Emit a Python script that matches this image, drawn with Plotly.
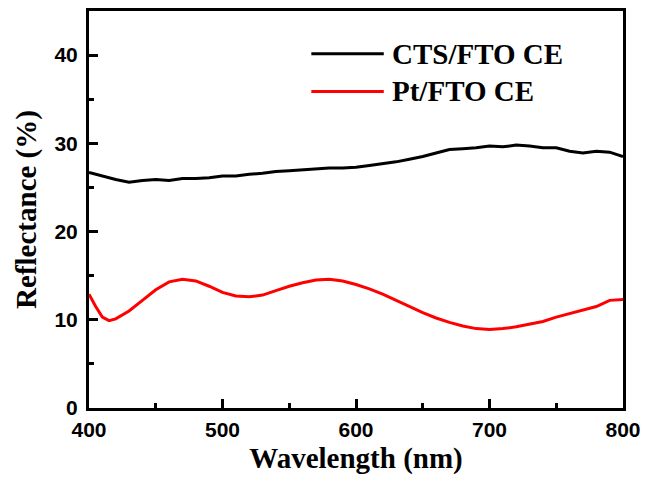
import plotly.graph_objects as go

wl_cts = [400, 410, 420, 430, 440, 450, 460, 470, 480, 490, 500, 510, 520, 530, 540, 550,
          560, 570, 580, 590, 600, 610, 620, 630, 640, 650, 660, 670, 680, 690, 700, 710,
          720, 730, 740, 750, 760, 770, 780, 790, 800]
refl_cts = [26.7, 26.3, 25.9, 25.6, 25.8, 25.9, 25.8, 26.0, 26.0, 26.1, 26.3, 26.3, 26.5, 26.6,
            26.8, 26.9, 27.0, 27.1, 27.2, 27.2, 27.3, 27.5, 27.7, 27.9, 28.2, 28.5, 28.9, 29.3,
            29.4, 29.5, 29.7, 29.6, 29.8, 29.7, 29.5, 29.5, 29.1, 28.9, 29.1, 29.0, 28.5]

wl_pt = [400, 405, 410, 415, 420, 430, 440, 450, 460, 470, 480, 490, 500, 510, 520, 530, 540,
         550, 560, 570, 580, 590, 600, 610, 620, 630, 640, 650, 660, 670, 680, 690, 700, 710,
         720, 730, 740, 750, 760, 770, 780, 790, 800]
refl_pt = [12.9, 11.5, 10.3, 9.9, 10.1, 11.0, 12.2, 13.4, 14.3, 14.6, 14.4, 13.8, 13.1, 12.7,
           12.6, 12.8, 13.3, 13.8, 14.2, 14.5, 14.6, 14.4, 14.0, 13.5, 12.9, 12.2, 11.5, 10.8,
           10.2, 9.7, 9.3, 9.0, 8.9, 9.0, 9.2, 9.5, 9.8, 10.3, 10.7, 11.1, 11.5, 12.2, 12.3]

names = ["CTS/FTO CE", "Pt/FTO CE"]
colors = ["#000000", "#ff0000"]

fig = go.Figure()
fig.add_trace(go.Scatter(x=wl_cts, y=refl_cts, mode="lines", name=names[0],
                         line=dict(color=colors[0], width=3), showlegend=False))
fig.add_trace(go.Scatter(x=wl_pt, y=refl_pt, mode="lines", name=names[1],
                         line=dict(color=colors[1], width=3), showlegend=False))

# manual legend
W, H = 649, 481
ml, mr, mt, mb = 89, 22, 8, 73
pw, ph = W - ml - mr, H - mt - mb
def px2paper(x, y):
    return (x - ml) / pw, (H - mb - y) / ph
for i, (nm, c) in enumerate(zip(names, colors)):
    yy = 51 + i * 38
    x0, y0 = px2paper(313, yy)
    x1, _ = px2paper(386, yy)
    fig.add_shape(type="line", xref="paper", yref="paper", x0=x0, x1=x1, y0=y0, y1=y0,
                  line=dict(color=c, width=3))
    tx, _ = px2paper(393, yy)
    fig.add_annotation(xref="paper", yref="paper", x=tx, y=y0, text=nm, showarrow=False,
                       xanchor="left", yanchor="middle", borderpad=0,
                       font=dict(family="Liberation Serif", size=29, color="black", weight="bold"))

axis_common = dict(
    showline=True, linecolor="black", linewidth=3, mirror=True,
    ticks="inside", ticklen=9, tickwidth=2.5, tickcolor="black",
    showgrid=False, zeroline=False,
    tickfont=dict(family="Liberation Sans", size=21, color="black", weight="bold"),
)
fig.update_xaxes(range=[400, 800], dtick=100, tick0=400,
                 minor=dict(ticks="inside", dtick=50, ticklen=5, tickwidth=2.5, tickcolor="black"),
                 title=dict(text="Wavelength (nm)", standoff=8,
                            font=dict(family="Liberation Serif", size=29, color="black", weight="bold")),
                 ticklabelstandoff=1,
                 **axis_common)
fig.update_yaxes(range=[0, 45], dtick=10, tick0=0,
                 minor=dict(ticks="inside", dtick=5, ticklen=5, tickwidth=2.5, tickcolor="black"),
                 title=dict(text="Reflectance (%)", standoff=10,
                            font=dict(family="Liberation Serif", size=29, color="black", weight="bold")),
                 ticklabelstandoff=4,
                 **axis_common)
fig.update_layout(width=W, height=H, margin=dict(l=ml, r=mr, t=mt, b=mb),
                  plot_bgcolor="white", paper_bgcolor="white")
fig.write_html("out.html")
